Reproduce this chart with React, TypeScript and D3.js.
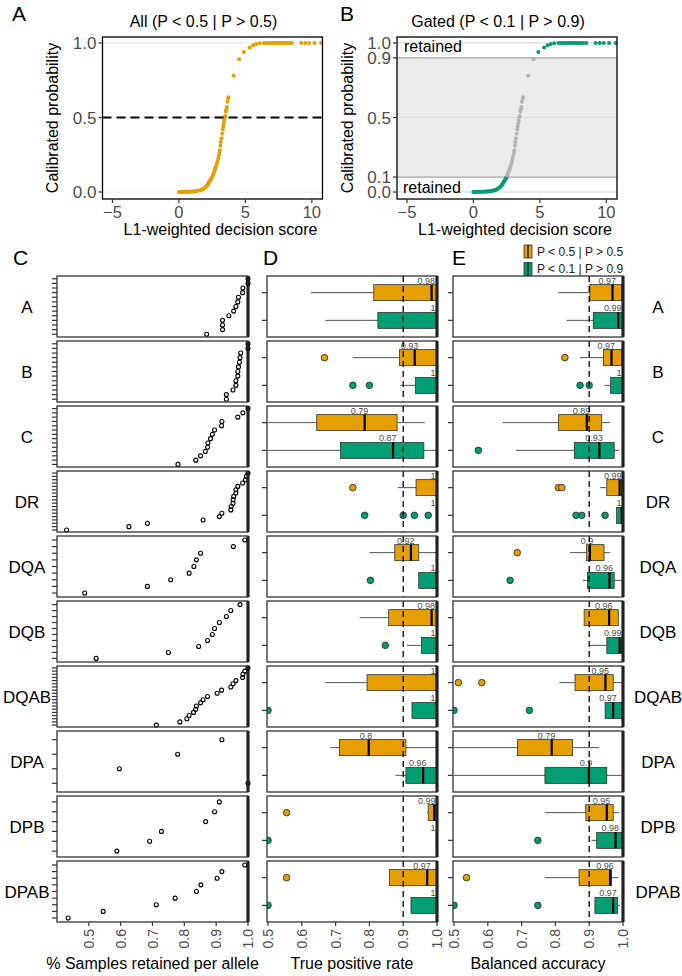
import React, { useEffect, useRef } from 'react';
import * as d3 from 'd3';

const ORANGE = '#E69F00';
const GREEN = '#009E73';
const FONT = '"Liberation Sans", Arial, Helvetica, sans-serif';

// calibration curve, same samples in A and B
const scores = [
  0.0, 0.08, 0.16, 0.25, 0.34, 0.43, 0.52, 0.61, 0.7, 0.8, 0.9, 1.0, 1.1, 1.2, 1.3, 1.4, 1.5, 1.6, 1.7,
  1.8, 1.88, 1.95, 2.02, 2.1, 2.15, 2.2, 2.25, 2.3, 2.35, 2.4, 2.45, 2.5, 2.55, 2.6, 2.65, 2.7, 2.75,
  2.8, 2.85, 2.9, 2.95, 3.0, 3.05, 3.08, 3.12, 3.15, 3.2, 3.25, 3.3, 3.33, 3.37, 3.4, 3.45, 3.48,
  3.53, 3.57, 3.6, 3.65, 3.7, 3.73, 4.12, 4.52, 4.88, 5.32, 5.58, 5.82, 6.08, 6.4, 6.6, 6.75, 6.9,
  7.05, 7.2, 7.35, 7.5, 7.65, 7.8, 7.95, 8.1, 8.3, 8.5, 9.2, 9.5, 9.8, 10.2, 10.7,
];
const probs = [
  0.0, 0.0, 0.0, 0.001, 0.001, 0.001, 0.001, 0.002, 0.002, 0.002, 0.003, 0.003, 0.004, 0.005, 0.006,
  0.008, 0.01, 0.012, 0.015, 0.02, 0.025, 0.03, 0.036, 0.042, 0.049, 0.056, 0.063, 0.07, 0.077, 0.085,
  0.092, 0.1, 0.112, 0.125, 0.137, 0.15, 0.162, 0.175, 0.19, 0.205, 0.224, 0.245, 0.265, 0.28, 0.31,
  0.336, 0.36, 0.39, 0.42, 0.44, 0.46, 0.48, 0.5, 0.51, 0.54, 0.555, 0.57, 0.605, 0.625, 0.635, 0.78,
  0.89, 0.94, 0.97, 0.985, 0.993, 0.998, 1.0, 1.0, 1.0, 1.0, 1.0, 1.0, 1.0, 1.0, 1.0, 1.0, 1.0, 1.0,
  1.0, 1.0, 1.0, 1.0, 1.0, 1.0, 1.0,
];

const genes = ['A', 'B', 'C', 'DR', 'DQA', 'DQB', 'DQAB', 'DPA', 'DPB', 'DPAB'];

// C: fraction of samples retained, one value per allele (bottom row first)
const retained = [
  [0.87, 0.92, 0.92, 0.92, 0.94, 0.955, 0.962, 0.968, 0.97, 0.983, 0.984, 1, 1],
  [0.932, 0.932, 0.953, 0.962, 0.962, 0.968, 0.968, 0.97, 0.973, 0.975, 0.977, 1, 1],
  [0.78, 0.836, 0.851, 0.866, 0.873, 0.874, 0.882, 0.888, 0.895, 0.917, 0.918, 0.968, 0.984, 1],
  [0.43, 0.626, 0.684, 0.859, 0.91, 0.918, 0.946, 0.947, 0.953, 0.953, 0.955, 0.962, 0.962, 0.968, 0.983, 0.992, 0.995, 1],
  [0.487, 0.684, 0.757, 0.815, 0.83, 0.838, 0.851, 0.954, 0.99],
  [0.523, 0.75, 0.845, 0.873, 0.888, 0.895, 0.91, 0.932, 0.946, 0.975],
  [0.712, 0.786, 0.808, 0.815, 0.829, 0.836, 0.838, 0.851, 0.859, 0.873, 0.903, 0.917, 0.946, 0.953, 0.962, 0.983, 0.984, 0.99, 1],
  [1, 0.596, 0.779, 0.918],
  [0.588, 0.691, 0.728, 0.867, 0.895, 0.91],
  [0.435, 0.545, 0.712, 0.771, 0.838, 0.852, 0.903, 0.918, 0.99],
];

// D: true positive rate boxes [whisker low, q1, median, q3, whisker high]
const tprAll = [
  [0.627, 0.813, 0.984, 1, 1],
  [0.751, 0.889, 0.934, 1, 1],
  [0.5, 0.644, 0.786, 0.882, 0.964],
  [0.884, 0.938, 1, 1, 1],
  [0.8, 0.875, 0.923, 0.946, 1],
  [0.771, 0.857, 0.984, 1, 1],
  [0.669, 0.793, 1, 1, 1],
  [0.684, 0.711, 0.798, 0.908, 1],
  [0.971, 0.974, 0.992, 1, 1],
  [0.859, 0.859, 0.971, 1, 1],
];
const tprAllOut = [[], [0.667], [], [0.751], [], [], [], [], [0.555], [0.555]];
const tprGated = [
  [0.669, 0.825, 1, 1, 1],
  [0.892, 0.936, 1, 1, 1],
  [0.5, 0.714, 0.87, 0.961, 1],
  [1, 1, 1, 1, 1],
  [0.946, 0.946, 1, 1, 1],
  [0.911, 0.954, 1, 1, 1],
  [0.926, 0.926, 1, 1, 1],
  [0.877, 0.908, 0.959, 1, 1],
  [1, 1, 1, 1, 1],
  [0.923, 0.923, 1, 1, 1],
];
const tprGatedOut = [[], [0.751, 0.8], [], [0.786, 0.9, 0.933, 0.974], [0.803], [0.847], [0.5], [], [0.5], [0.5]];

// E: balanced accuracy boxes
const balAll = [
  [0.809, 0.902, 0.969, 0.996, 0.996],
  [0.873, 0.942, 0.966, 0.996, 0.996],
  [0.644, 0.809, 0.893, 0.937, 0.962],
  [0.932, 0.952, 0.99, 0.996, 0.996],
  [0.843, 0.892, 0.902, 0.944, 0.962],
  [0.885, 0.885, 0.959, 0.986, 0.986],
  [0.812, 0.858, 0.948, 0.971, 0.996],
  [0.5, 0.688, 0.789, 0.851, 0.929],
  [0.769, 0.89, 0.952, 0.971, 0.989],
  [0.769, 0.87, 0.962, 0.966, 0.986],
];
const balAllOut = [[], [0.828], [], [0.809, 0.819], [0.687], [], [0.513, 0.582], [], [], [0.537]];
const balGated = [
  [0.833, 0.912, 0.986, 0.999, 0.999],
  [0.945, 0.963, 1, 1, 1],
  [0.683, 0.856, 0.93, 0.974, 0.989],
  [0.981, 0.981, 0.996, 1, 1],
  [0.881, 0.895, 0.96, 0.974, 0.996],
  [0.9, 0.952, 0.99, 0.996, 0.996],
  [0.947, 0.947, 0.971, 0.996, 0.996],
  [0.5, 0.769, 0.899, 0.952, 0.996],
  [0.907, 0.922, 0.978, 0.996, 0.996],
  [0.917, 0.917, 0.971, 0.984, 0.991],
];
const balGatedOut = [[], [0.873, 0.9], [0.572], [0.861, 0.878, 0.947], [0.666], [], [0.5, 0.723], [], [0.748], [0.5, 0.748]];

const bottomTicks = [0.5, 0.6, 0.7, 0.8, 0.9, 1.0];

const FT = 276; // first facet top
const FSTEP = 65;
const FH = 61;
const AXIS_Y = FT + FSTEP * 9 + FH;

const App = () => {
  const ref = useRef<SVGSVGElement>(null);

  useEffect(() => {
    const svg = d3.select(ref.current);
    svg.selectAll('*').remove();
    svg.style('font-family', FONT);

    const letter = (t: string, x: number, y: number) =>
      svg.append('text').attr('x', x).attr('y', y).attr('font-size', 21).text(t);

    // ---------- A / B calibration panels ----------
    const calib = (left: number, right: number, gated: boolean, title: string, id: string) => {
      const x = d3.scaleLinear().domain([-5.75, 10.8]).range([left, right]);
      const y = d3.scaleLinear().domain([-0.047, 1.04]).range([199, 37]);
      const g = svg.append('g');
      g.append('clipPath').attr('id', id).append('rect')
        .attr('x', left).attr('y', 37).attr('width', right - left).attr('height', 162);

      if (gated) {
        g.append('rect').attr('x', left).attr('width', right - left)
          .attr('y', y(0.9)).attr('height', y(0.1) - y(0.9)).attr('fill', '#ebebeb');
      }
      [0, 0.5, 1].forEach(v => {
        g.append('line').attr('x1', left).attr('x2', right).attr('y1', y(v)).attr('y2', y(v))
          .attr('stroke', gated ? '#dadada' : '#ebebeb').attr('stroke-width', 1.2);
      });
      if (gated) {
        [0.1, 0.9].forEach(v => {
          g.append('line').attr('x1', left).attr('x2', right).attr('y1', y(v)).attr('y2', y(v))
            .attr('stroke', '#bdbdbd').attr('stroke-width', 1.8);
        });
      }

      g.append('g').attr('clip-path', `url(#${id})`)
        .selectAll('circle')
        .data(scores.map((s, i) => [s, probs[i]]))
        .join('circle')
        .attr('cx', d => x(d[0]))
        .attr('cy', d => y(d[1]))
        .attr('r', 2)
        .attr('fill', d => (!gated ? ORANGE : d[1] >= 0.9 || d[1] <= 0.1 ? GREEN : '#b5b5b5'));

      if (!gated) {
        g.append('line').attr('x1', left).attr('x2', right).attr('y1', y(0.5)).attr('y2', y(0.5))
          .attr('stroke', 'black').attr('stroke-width', 2).attr('stroke-dasharray', '9,5');
      } else {
        g.append('text').attr('x', left + 7).attr('y', 52).attr('font-size', 16).text('retained');
        g.append('text').attr('x', left + 6).attr('y', 193).attr('font-size', 16).text('retained');
      }

      g.append('rect').attr('x', left).attr('y', 37).attr('width', right - left).attr('height', 162)
        .attr('fill', 'none').attr('stroke', 'black').attr('stroke-width', 1.3);

      const yt = gated ? [0, 0.1, 0.5, 0.9, 1] : [0, 0.5, 1];
      yt.forEach(v => {
        g.append('line').attr('x1', left - 4).attr('x2', left).attr('y1', y(v)).attr('y2', y(v))
          .attr('stroke', '#333').attr('stroke-width', 1.2);
        g.append('text').attr('x', left - 6).attr('y', y(v)).attr('dy', '0.36em')
          .attr('text-anchor', 'end').attr('font-size', 17).attr('fill', '#4d4d4d')
          .text(d3.format('.1f')(v));
      });
      [-5, 0, 5, 10].forEach(v => {
        g.append('line').attr('x1', x(v)).attr('x2', x(v)).attr('y1', 199).attr('y2', 203)
          .attr('stroke', '#333').attr('stroke-width', 1.2);
        g.append('text').attr('x', x(v)).attr('y', 218).attr('text-anchor', 'middle')
          .attr('font-size', 16.5).attr('fill', '#4d4d4d').text(v < 0 ? `\u2212${-v}` : `${v}`);
      });

      g.append('text').attr('x', (left + right) / 2 - 9).attr('y', 27).attr('text-anchor', 'middle')
        .attr('font-size', 16).text(title);
      g.append('text').attr('x', (left + right) / 2 + 8).attr('y', 235).attr('text-anchor', 'middle')
        .attr('font-size', 16).text('L1-weighted decision score');
      g.append('text').attr('transform', `translate(${left - 44.5},118) rotate(-90)`)
        .attr('text-anchor', 'middle').attr('font-size', 16).text('Calibrated probability');
    };

    calib(102.5, 322.5, false, 'All (P < 0.5 | P > 0.5)', 'clipA');
    calib(397, 617, true, 'Gated (P < 0.1 | P > 0.9)', 'clipB');
    letter('A', 12, 21);
    letter('B', 340, 21);

    // ---------- C: retained per allele ----------
    const xC = d3.scaleLinear().domain([0.4, 1.0]).range([57, 248]);
    genes.forEach((gene, k) => {
      const top = FT + FSTEP * k;
      const vals = retained[k];
      const yC = d3.scalePoint<number>().domain(d3.range(vals.length)).range([top + FH, top]).padding(0.6);
      const g = svg.append('g');
      g.append('rect').attr('x', 57).attr('y', top).attr('width', 191).attr('height', FH)
        .attr('fill', 'white');
      g.selectAll('line.tk').data(vals).join('line')
        .attr('x1', 52).attr('x2', 57)
        .attr('y1', (_, i) => yC(i)!).attr('y2', (_, i) => yC(i)!)
        .attr('stroke', '#333').attr('stroke-width', 1.2);
      g.selectAll('circle').data(vals).join('circle')
        .attr('cx', d => xC(d)).attr('cy', (_, i) => yC(i)!).attr('r', 2)
        .attr('fill', 'none').attr('stroke', 'black').attr('stroke-width', 1.1);
      g.append('line').attr('x1', xC(1)).attr('x2', xC(1)).attr('y1', top).attr('y2', top + FH)
        .attr('stroke', 'black').attr('stroke-width', 3);
      g.append('rect').attr('x', 57).attr('y', top).attr('width', 191).attr('height', FH)
        .attr('fill', 'none').attr('stroke', '#333').attr('stroke-width', 1.3);
      svg.append('text').attr('x', 27).attr('y', top + FH / 2).attr('dy', '0.36em')
        .attr('text-anchor', 'middle').attr('font-size', 17).text(gene);
    });
    letter('C', 13, 265);

    // ---------- D / E: box plots ----------
    const boxPanel = (
      left: number, right: number,
      allStats: number[][], allOut: number[][],
      gatedStats: number[][], gatedOut: number[][], id: string,
    ) => {
      const x = d3.scaleLinear().domain([0.497, 1.0]).range([left, right]);
      genes.forEach((gene, k) => {
        const top = FT + FSTEP * k;
        const yB = d3.scalePoint<string>().domain(['all', 'gated']).range([top, top + FH]).padding(0.6);
        const g = svg.append('g');
        const cid = `${id}${k}`;
        g.append('clipPath').attr('id', cid).append('rect')
          .attr('x', left).attr('y', top).attr('width', right - left).attr('height', FH);
        g.append('rect').attr('x', left).attr('y', top).attr('width', right - left).attr('height', FH)
          .attr('fill', 'white');
        const inner = g.append('g').attr('clip-path', `url(#${cid})`);

        const rows: [string, number[], number[], string][] = [
          ['all', allStats[k], allOut[k], ORANGE],
          ['gated', gatedStats[k], gatedOut[k], GREEN],
        ];
        rows.forEach(([key, s, out, col]) => {
          const cy = yB(key)!;
          const [lo, q1, med, q3, hi] = s;
          g.append('line').attr('x1', left - 5).attr('x2', left).attr('y1', cy).attr('y2', cy)
            .attr('stroke', '#333').attr('stroke-width', 1.2);
          inner.append('line').attr('x1', x(lo)).attr('x2', x(q1)).attr('y1', cy).attr('y2', cy)
            .attr('stroke', '#555').attr('stroke-width', 1);
          inner.append('line').attr('x1', x(q3)).attr('x2', x(hi)).attr('y1', cy).attr('y2', cy)
            .attr('stroke', '#555').attr('stroke-width', 1);
          inner.append('rect').attr('x', x(q1)).attr('y', cy - 8).attr('width', x(q3) - x(q1))
            .attr('height', 16).attr('fill', col).attr('stroke', '#333').attr('stroke-width', 0.8);
          inner.append('line').attr('x1', x(med)).attr('x2', x(med)).attr('y1', cy - 8).attr('y2', cy + 8)
            .attr('stroke', 'black').attr('stroke-width', 2.2);
          inner.selectAll(null).data(out).join('circle')
            .attr('cx', d => x(d)).attr('cy', cy).attr('r', 3.3)
            .attr('fill', col).attr('stroke', '#333').attr('stroke-width', 0.9);
          inner.append('text').attr('x', Math.min(x(med) + 3.5, right - 1.5)).attr('y', cy - 9)
            .attr('text-anchor', 'end')
            .attr('font-size', 9).attr('fill', '#4d4d4d').text(String(Math.round(med * 100) / 100));
        });

        g.append('line').attr('x1', x(0.9)).attr('x2', x(0.9)).attr('y1', top).attr('y2', top + FH)
          .attr('stroke', 'black').attr('stroke-width', 1.3).attr('stroke-dasharray', '6,4');
        g.append('line').attr('x1', x(1)).attr('x2', x(1)).attr('y1', top).attr('y2', top + FH)
          .attr('stroke', 'black').attr('stroke-width', 3);
        g.append('rect').attr('x', left).attr('y', top).attr('width', right - left).attr('height', FH)
          .attr('fill', 'none').attr('stroke', '#333').attr('stroke-width', 1.3);
      });
      return x;
    };

    const xD = boxPanel(267, 437, tprAll, tprAllOut, tprGated, tprGatedOut, 'clipD');
    const xE = boxPanel(453, 623, balAll, balAllOut, balGated, balGatedOut, 'clipE');
    letter('D', 263, 265);
    letter('E', 452, 265);

    genes.forEach((gene, k) => {
      svg.append('text').attr('x', 658).attr('y', FT + FSTEP * k + FH / 2).attr('dy', '0.36em')
        .attr('text-anchor', 'middle').attr('font-size', 17).text(gene);
    });

    // bottom axes
    const bottomAxis = (x: d3.ScaleLinear<number, number>, title: string) => {
      const g = svg.append('g');
      bottomTicks.forEach(v => {
        g.append('line').attr('x1', x(v)).attr('x2', x(v)).attr('y1', AXIS_Y).attr('y2', AXIS_Y + 4)
          .attr('stroke', '#333').attr('stroke-width', 1.2);
        g.append('text').attr('transform', `translate(${x(v)},${AXIS_Y + 7}) rotate(-90)`)
          .attr('text-anchor', 'end').attr('dy', '0.36em').attr('font-size', 14).attr('fill', '#4d4d4d')
          .text(d3.format('.1f')(v));
      });
      const [r0, r1] = x.range();
      g.append('text').attr('x', (r0 + r1) / 2).attr('y', 969).attr('text-anchor', 'middle')
        .attr('font-size', 16).text(title);
    };
    bottomAxis(xC, '% Samples retained per allele');
    bottomAxis(xD, 'True positive rate');
    bottomAxis(xE, 'Balanced accuracy');

    // legend
    const legend = [
      ['P < 0.5 | P > 0.5', ORANGE],
      ['P < 0.1 | P > 0.9', GREEN],
    ];
    legend.forEach(([label, col], i) => {
      const cy = 251.5 + i * 17.5;
      svg.append('rect').attr('x', 524).attr('y', cy - 6.5).attr('width', 8).attr('height', 13)
        .attr('fill', col).attr('stroke', '#333').attr('stroke-width', 0.8);
      svg.append('line').attr('x1', 528).attr('x2', 528).attr('y1', cy - 6.5).attr('y2', cy + 6.5)
        .attr('stroke', 'black').attr('stroke-width', 1.2);
      svg.append('text').attr('x', 537).attr('y', cy).attr('dy', '0.36em').attr('font-size', 12)
        .attr('fill', '#222').text(label);
    });
  }, []);

  return (
    <svg
      ref={ref}
      width={682}
      height={976}
      style={{ position: 'absolute', left: 0, top: 0, background: 'white' }}
    />
  );
};

export default App;
